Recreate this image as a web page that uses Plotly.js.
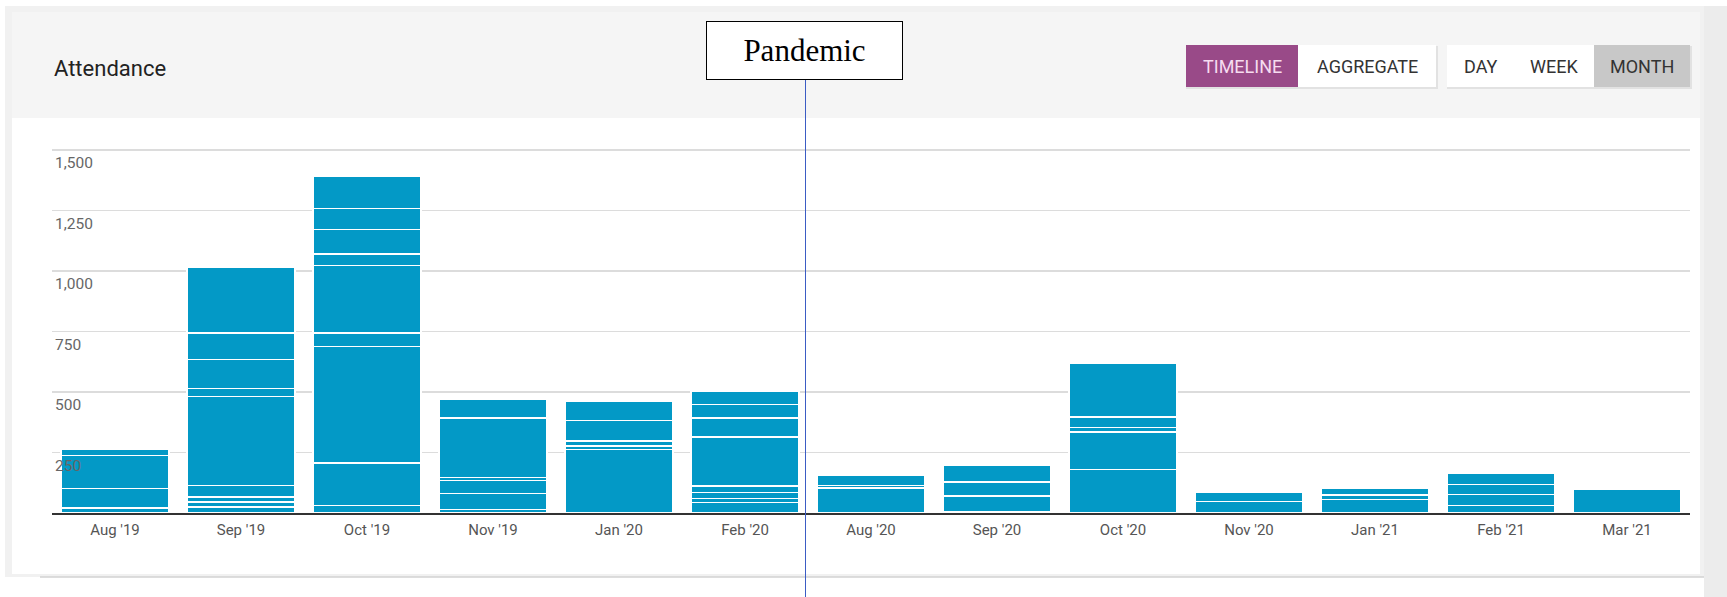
<!DOCTYPE html>
<html>
<head>
<meta charset="utf-8">
<script src="https://cdn.plot.ly/plotly-3.0.1.min.js"></script>
<style>
  html, body { margin: 0; padding: 0; background: #ffffff; }
  #chart { width: 1727px; height: 597px; }
</style>
</head>
<body>
<div id="chart"></div>
<script>
// ---- Data ----
const months = ["Aug '19", "Sep '19", "Oct '19", "Nov '19", "Jan '20", "Feb '20",
                "Aug '20", "Sep '20", "Oct '20", "Nov '20", "Jan '21", "Feb '21", "Mar '21"];

// Stacked attendance segments per month, bottom to top
const aug19 = [21, 81, 136, 24];
const sep19 = [25, 20, 21, 48, 367, 33, 120, 109, 272];
const oct19 = [32, 175, 482, 54, 280, 48, 101, 87, 131];
const nov19 = [15, 65, 55, 11, 246, 80];
const jan20 = [262, 15, 21, 84, 78];
const feb20 = [43, 16, 25, 28, 202, 79, 55, 57];
const aug20 = [103, 11, 43];
const sep20 = [5, 65, 58, 71];
const oct20 = [179, 155, 19, 44, 222];
const nov20 = [47, 40];
const jan21 = [56, 18, 29];
const feb21 = [32, 44, 41, 47];
const mar21 = [98];

const yTickVals = [250, 500, 750, 1000, 1250, 1500];
const yTickText = ["250", "500", "750", "1,000", "1,250", "1,500"];

const buttonLabels = ["TIMELINE", "AGGREGATE", "DAY", "WEEK", "MONTH"];
const chartTitle = "Attendance";
const eventLabel = "Pandemic";

// ---- Layout geometry ----
const W = 1727, H = 597;
const M = { l: 52, r: 37, t: 136, b: 84 };
const plotW = W - M.l - M.r, plotH = H - M.t - M.b;
const px = x => (x - M.l) / plotW;          // pixel x -> paper
const py = y => (H - M.b - y) / plotH;      // pixel y -> paper
const yTop = 1500 * plotH / (H - M.b - 150); // so that 1,500 sits at pixel 150

const BAR = '#0399c6';
const segs = [aug19, sep19, oct19, nov19, jan20, feb20, aug20, sep20, oct20, nov20, jan21, feb21, mar21];
const maxN = Math.max(...segs.map(s => s.length));

const traces = [];
for (let k = 0; k < maxN; k++) {
  traces.push({
    type: 'bar',
    x: months,
    y: segs.map(s => (k < s.length ? s[k] : null)),
    marker: { color: BAR, line: { color: '#ffffff', width: 1.5 } },
    hoverinfo: 'skip',
    showlegend: false
  });
}

// ---- Decorations: card, header, buttons ----
const shapes = [
  { type: 'rect', xref: 'paper', yref: 'paper', layer: 'below',
    x0: px(1704), x1: px(W), y0: py(H), y1: py(6), fillcolor: '#ececec', line: { width: 0 } },
  { type: 'rect', xref: 'paper', yref: 'paper', layer: 'below',
    x0: px(5), x1: px(1704), y0: py(577), y1: py(6), fillcolor: '#f1f1f1', line: { width: 0 } },
  { type: 'rect', xref: 'paper', yref: 'paper', layer: 'below',
    x0: px(12), x1: px(1700), y0: py(574), y1: py(118), fillcolor: '#ffffff', line: { width: 0 } },
  { type: 'rect', xref: 'paper', yref: 'paper', layer: 'below',
    x0: px(12), x1: px(1700), y0: py(118), y1: py(12), fillcolor: '#f5f5f5', line: { width: 0 } },
  { type: 'line', xref: 'paper', yref: 'paper', layer: 'below',
    x0: px(40), x1: px(1704), y0: py(577), y1: py(577), line: { color: '#d2d2d2', width: 1.5 } },
  { type: 'rect', xref: 'paper', yref: 'paper', layer: 'below',
    x0: px(1186), x1: px(1438), y0: py(89), y1: py(46), fillcolor: '#e2e2e2', line: { width: 0 } },
  { type: 'rect', xref: 'paper', yref: 'paper', layer: 'below',
    x0: px(1447), x1: px(1692), y0: py(89), y1: py(46), fillcolor: '#e2e2e2', line: { width: 0 } },
  { type: 'rect', xref: 'paper', yref: 'paper', layer: 'below',
    x0: px(1186), x1: px(1298), y0: py(87), y1: py(45), fillcolor: '#994a88', line: { width: 0 } },
  { type: 'rect', xref: 'paper', yref: 'paper', layer: 'below',
    x0: px(1298), x1: px(1436), y0: py(87), y1: py(45), fillcolor: '#ffffff', line: { width: 0 } },
  { type: 'rect', xref: 'paper', yref: 'paper', layer: 'below',
    x0: px(1447), x1: px(1594), y0: py(87), y1: py(45), fillcolor: '#ffffff', line: { width: 0 } },
  { type: 'rect', xref: 'paper', yref: 'paper', layer: 'below',
    x0: px(1594), x1: px(1690), y0: py(87), y1: py(45), fillcolor: '#c8c8c8', line: { width: 0 } },
  { type: 'line', xref: 'paper', yref: 'paper', layer: 'above',
    x0: px(805.5), x1: px(805.5), y0: py(H), y1: py(80), line: { color: '#3b5cc4', width: 1 } }
];

const btnX = [1242, 1367, 1481, 1554, 1642];
const btnColor = ['#f6dcf0', '#333333', '#333333', '#333333', '#333333'];

const annotations = [
  { xref: 'paper', yref: 'paper', x: px(52), y: py(68), xanchor: 'left', yanchor: 'middle',
    text: chartTitle, showarrow: false, font: { family: 'Roboto', size: 22, color: '#222222' } },
  { xref: 'paper', yref: 'paper', x: px(804.5), y: py(50.5), xanchor: 'center', yanchor: 'middle',
    text: eventLabel, showarrow: false, width: 195, height: 57, borderpad: 0,
    bgcolor: '#ffffff', bordercolor: '#000000', borderwidth: 1,
    font: { family: 'Liberation Serif', size: 31, color: '#000000' } }
];
buttonLabels.forEach((t, i) => {
  annotations.push({ xref: 'paper', yref: 'paper', x: px(btnX[i]), y: py(67), xanchor: 'center', yanchor: 'middle',
    text: t, showarrow: false, font: { family: 'Roboto', size: 18, color: btnColor[i] } });
});

const layout = {
  width: W, height: H,
  margin: M,
  paper_bgcolor: '#ffffff',
  plot_bgcolor: 'rgba(0,0,0,0)',
  barmode: 'stack',
  bargap: 0.14,
  showlegend: false,
  xaxis: {
    type: 'category',
    range: [-0.5, months.length - 0.5],
    showgrid: false, zeroline: false,
    showline: true, linecolor: '#333333', linewidth: 2,
    ticks: '', ticklabelstandoff: 2,
    tickfont: { family: 'Roboto', size: 15, color: '#555555' },
    fixedrange: true
  },
  yaxis: {
    range: [0, yTop],
    tickvals: yTickVals, ticktext: yTickText,
    showgrid: true, gridcolor: '#dcdcdc', gridwidth: 1.5,
    zeroline: false, showline: false,
    ticks: '', ticklabelposition: 'inside', ticklabelshift: 13, ticklabelstandoff: 0,
    tickfont: { family: 'Roboto', size: 15.5, color: '#666666' },
    fixedrange: true
  },
  shapes: shapes,
  annotations: annotations
};

Plotly.newPlot('chart', traces, layout, { staticPlot: true, displayModeBar: false });
</script>
</body>
</html>
